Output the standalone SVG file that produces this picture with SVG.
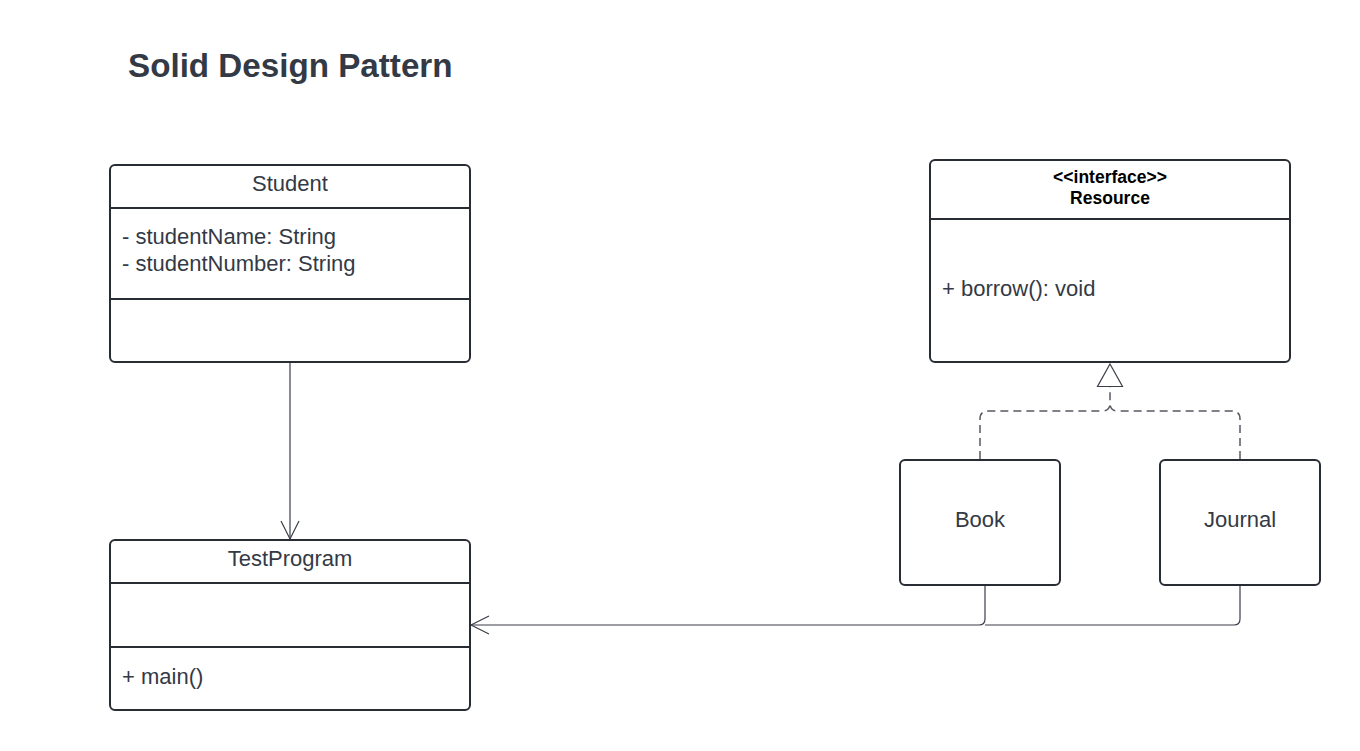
<svg xmlns="http://www.w3.org/2000/svg" width="1360" height="751" viewBox="0 0 1360 751">
<style>
.box{fill:#fff;stroke:#282c33;stroke-width:2}
.div{stroke:#282c33;stroke-width:2}
.t{font-family:"Liberation Sans",Arial,sans-serif;font-size:22px;fill:#333a45}
.c{text-anchor:middle}
.b{font-weight:bold;fill:#000;font-size:17.5px}
.ln{fill:none;stroke:#3a3f48;stroke-width:1.2}
.dash{fill:none;stroke:#555a62;stroke-width:1.5;stroke-dasharray:8,5}
</style>
<defs>
<marker id="open" markerWidth="24" markerHeight="24" refX="20" refY="10" orient="auto" markerUnits="userSpaceOnUse">
<path d="M2,1 L20,10 L2,19" fill="none" stroke="#3a3f48" stroke-width="1.2"/>
</marker>
</defs>
<rect width="1360" height="751" fill="#fff"/>
<text x="128" y="77" font-family="'Liberation Sans',Arial,sans-serif" font-size="33.2" font-weight="bold" fill="#333a45">Solid Design Pattern</text>
<g id="connectors">
<path class="ln" d="M290,363 L290,539" marker-end="url(#open)"/>
<path class="ln" d="M985,586 L985,619 Q985,625 979,625 L471,625" marker-end="url(#open)"/>
<path class="ln" d="M1240,586 L1240,619 Q1240,625 1234,625 L985,625"/>
<path class="dash" d="M980,459 L980,419 Q980,411 988,411 L1102,411 Q1110,411 1110,403 L1110,387"/>
<path class="dash" d="M1240,459 L1240,419 Q1240,411 1232,411 L1118,411 Q1110,411 1110,403"/>
<path d="M1110,364 L1122.5,386.5 L1097.5,386.5 Z" fill="#fff" stroke="#3a3f48" stroke-width="1.2"/>
</g>
<g id="student">
<rect class="box" x="110" y="165" width="360" height="197" rx="5"/>
<line class="div" x1="110" y1="208" x2="470" y2="208"/>
<line class="div" x1="110" y1="299" x2="470" y2="299"/>
<text class="t c" x="290" y="191">Student</text>
<text class="t" x="122" y="244">- studentName: String</text>
<text class="t" x="122" y="271">- studentNumber: String</text>
</g>
<g id="resource">
<rect class="box" x="930" y="160" width="360" height="202" rx="5"/>
<line class="div" x1="930" y1="219" x2="1290" y2="219"/>
<text class="t c b" x="1110" y="183">&lt;&lt;interface&gt;&gt;</text>
<text class="t c b" x="1110" y="204">Resource</text>
<text class="t" x="942" y="296">+ borrow(): void</text>
</g>
<g id="testprogram">
<rect class="box" x="110" y="540" width="360" height="170" rx="5"/>
<line class="div" x1="110" y1="583" x2="470" y2="583"/>
<line class="div" x1="110" y1="647" x2="470" y2="647"/>
<text class="t c" x="290" y="566">TestProgram</text>
<text class="t" x="122" y="684">+ main()</text>
</g>
<g id="book">
<rect class="box" x="900" y="460" width="160" height="125" rx="5"/>
<text class="t c" x="980" y="527">Book</text>
</g>
<g id="journal">
<rect class="box" x="1160" y="460" width="160" height="125" rx="5"/>
<text class="t c" x="1240" y="527">Journal</text>
</g>
</svg>
